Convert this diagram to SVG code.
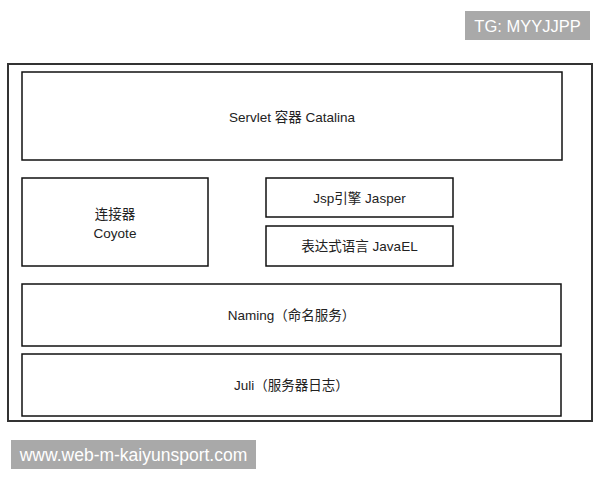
<svg xmlns="http://www.w3.org/2000/svg" width="600" height="480" viewBox="0 0 600 480">
<style>
.box{fill:#fff;stroke:#111;stroke-width:1.5}
.lbl{font-family:"Liberation Sans","Noto Sans CJK SC",sans-serif;font-size:13.5px;fill:#222;text-anchor:middle;dominant-baseline:central}
.badge{fill:#a9a9a9}
.bt{font-family:"Liberation Sans","Noto Sans CJK SC",sans-serif;fill:#fff;dominant-baseline:central}
</style>
<rect width="600" height="480" fill="#fff"/>
<g id="tg-badge">
<rect class="badge" x="465" y="11" width="125" height="29"/>
<text class="bt" x="527.5" y="25.5" font-size="16.5" text-anchor="middle">TG: MYYJJPP</text>
</g>
<g id="frame">
<rect x="8" y="64" width="584" height="357" fill="none" stroke="#333" stroke-width="2"/>
</g>
<g id="catalina">
<rect class="box" x="22" y="72" width="540" height="88"/>
<text class="lbl" x="292" y="117">Servlet 容器 Catalina</text>
</g>
<g id="coyote">
<rect class="box" x="22" y="178" width="186" height="88"/>
<text class="lbl" x="115" y="214">连接器</text>
<text class="lbl" x="115" y="233">Coyote</text>
</g>
<g id="jasper">
<rect class="box" x="266" y="178" width="187" height="39"/>
<text class="lbl" x="359.5" y="198">Jsp引擎 Jasper</text>
</g>
<g id="javael">
<rect class="box" x="266" y="226" width="187" height="40"/>
<text class="lbl" x="359.5" y="246">表达式语言 JavaEL</text>
</g>
<g id="naming">
<rect class="box" x="22" y="284" width="539" height="62"/>
<text class="lbl" x="291.5" y="315">Naming（命名服务）</text>
</g>
<g id="juli">
<rect class="box" x="22" y="354" width="539" height="62"/>
<text class="lbl" x="291.5" y="385">Juli（服务器日志）</text>
</g>
<g id="connectors"></g>
<g id="url-badge">
<rect class="badge" x="11" y="440" width="245" height="29"/>
<text class="bt" x="133.5" y="454.5" font-size="17.5" text-anchor="middle">www.web-m-kaiyunsport.com</text>
</g>
</svg>
